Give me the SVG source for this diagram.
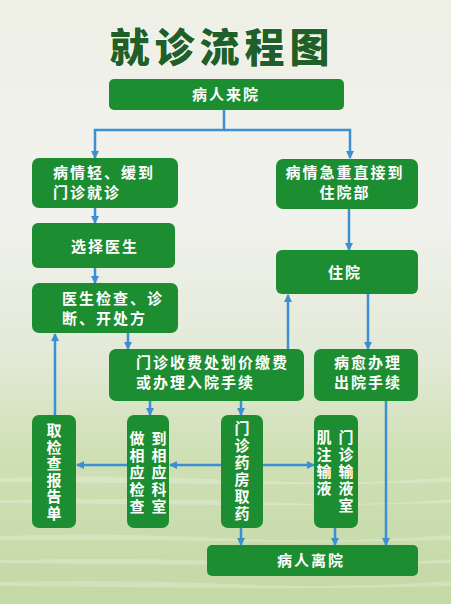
<svg xmlns="http://www.w3.org/2000/svg" width="451" height="604" viewBox="0 0 451 604">
<style>
.node{fill:#1d8d31;}
.t{fill:#ffffff;font-family:"Noto Sans CJK SC","Noto Sans",sans-serif;font-weight:bold;font-size:15px;letter-spacing:2px;}
.tc{text-anchor:middle;}
.v{fill:#ffffff;font-family:"Liberation Sans","Noto Sans CJK SC",sans-serif;font-weight:bold;font-size:15px;text-anchor:middle;}
.c{fill:none;stroke:#3b8fd2;stroke-width:2.5;marker-end:url(#arr);}
.title{fill:#1f5f28;font-family:"Noto Sans CJK SC","Noto Sans",sans-serif;font-weight:900;font-size:40px;letter-spacing:5px;stroke:#ffffff;stroke-width:1;paint-order:stroke;}
</style>
<defs>
<linearGradient id="bg" x1="0" y1="0" x2="0" y2="1">
<stop offset="0" stop-color="#eef0e6"/>
<stop offset="0.35" stop-color="#f1f2ee"/>
<stop offset="0.6" stop-color="#e2e9d6"/>
<stop offset="0.75" stop-color="#cfe0b5"/>
<stop offset="1" stop-color="#c4d9a6"/>
</linearGradient>
<marker id="arr" markerUnits="userSpaceOnUse" markerWidth="9" markerHeight="9" refX="7" refY="4.5" orient="auto">
<path d="M0,0.5 L8,4.5 L0,8.5 z" fill="#3b8fd2"/>
</marker>
</defs>
<rect width="451" height="604" fill="url(#bg)"/>
<g id="background-stripes" fill="#ffffff" opacity="0.22">
<path d="M0 478 Q120 474 240 480 T451 477 V482 Q330 485 240 484 T0 482 Z"/>
<path d="M0 500 Q150 497 260 502 T451 499 V503 Q330 506 230 505 T0 503 Z"/>
<path d="M0 536 Q100 532 220 538 T451 535 V540 Q330 543 210 541 T0 540 Z"/>
<path d="M0 560 Q140 557 250 562 T451 559 V563 Q320 566 220 565 T0 563 Z"/>
<path d="M0 582 Q110 579 230 584 T451 581 V586 Q330 589 220 588 T0 586 Z"/>
</g>
<text id="title" class="title" x="222" y="62" text-anchor="middle">就诊流程图</text>
<g id="connectors">
<path class="c" d="M224 110 V130 H95 V158"/>
<path class="c" d="M224 130 H350 V158"/>
<path class="c" d="M95 208 V223"/>
<path class="c" d="M95 268 V283"/>
<path class="c" d="M349 209 V250"/>
<path class="c" d="M55 415 V334"/>
<path class="c" d="M128 333 V349"/>
<path class="c" d="M288 349 V295"/>
<path class="c" d="M368 294 V349"/>
<path class="c" d="M150 401 V415"/>
<path class="c" d="M241 401 V415"/>
<path class="c" d="M221 465 H170"/>
<path class="c" d="M127 465 H77"/>
<path class="c" d="M263 465 H314"/>
<path class="c" d="M241 528 V545"/>
<path class="c" d="M335 528 V545"/>
<path class="c" d="M386 401 V545"/>
</g>
<g id="n-arrive"><rect class="node" x="109" y="79" width="235" height="31" rx="5"/><text class="t tc" x="226" y="100">病人来院</text></g>
<g id="n-mild"><rect class="node" x="32" y="158" width="146" height="50" rx="7"/><text class="t" x="53" y="178">病情轻、缓到</text><text class="t" x="53" y="198">门诊就诊</text></g>
<g id="n-urgent"><rect class="node" x="276" y="159" width="142" height="50" rx="7"/><text class="t tc" x="345" y="178">病情急重直接到</text><text class="t tc" x="345" y="198">住院部</text></g>
<g id="n-doctor"><rect class="node" x="32" y="223" width="143" height="45" rx="6"/><text class="t tc" x="105" y="252">选择医生</text></g>
<g id="n-exam"><rect class="node" x="32" y="283" width="146" height="50" rx="7"/><text class="t" x="62" y="304">医生检查、诊</text><text class="t" x="62" y="324">断、开处方</text></g>
<g id="n-hosp"><rect class="node" x="276" y="250" width="142" height="44" rx="6"/><text class="t tc" x="345" y="278">住院</text></g>
<g id="n-pay"><rect class="node" x="109" y="349" width="195" height="52" rx="7"/><text class="t" x="136" y="368">门诊收费处划价缴费</text><text class="t" x="136" y="388">或办理入院手续</text></g>
<g id="n-discharge"><rect class="node" x="314" y="349" width="104" height="52" rx="7"/><text class="t tc" x="368" y="368">病愈办理</text><text class="t tc" x="368" y="388">出院手续</text></g>
<g id="n-report"><rect class="node" x="32" y="415" width="44" height="113" rx="7"/><text class="v"><tspan x="54" y="436">取</tspan><tspan x="54" dy="16.6">检</tspan><tspan x="54" dy="16.6">查</tspan><tspan x="54" dy="16.6">报</tspan><tspan x="54" dy="16.6">告</tspan><tspan x="54" dy="16.6">单</tspan></text></g>
<g id="n-check"><rect class="node" x="127" y="415" width="42" height="113" rx="7"/><text class="v"><tspan x="137" y="444">做</tspan><tspan x="137" dy="17">相</tspan><tspan x="137" dy="17">应</tspan><tspan x="137" dy="17">检</tspan><tspan x="137" dy="17">查</tspan></text><text class="v"><tspan x="159" y="444">到</tspan><tspan x="159" dy="17">相</tspan><tspan x="159" dy="17">应</tspan><tspan x="159" dy="17">科</tspan><tspan x="159" dy="17">室</tspan></text></g>
<g id="n-pharmacy"><rect class="node" x="221" y="415" width="42" height="113" rx="7"/><text class="v"><tspan x="242" y="434">门</tspan><tspan x="242" dy="17">诊</tspan><tspan x="242" dy="17">药</tspan><tspan x="242" dy="17">房</tspan><tspan x="242" dy="17">取</tspan><tspan x="242" dy="17">药</tspan></text></g>
<g id="n-infusion"><rect class="node" x="314" y="415" width="44" height="113" rx="7"/><text class="v"><tspan x="324" y="443">肌</tspan><tspan x="324" dy="17">注</tspan><tspan x="324" dy="17">输</tspan><tspan x="324" dy="17">液</tspan></text><text class="v"><tspan x="346" y="443">门</tspan><tspan x="346" dy="17">诊</tspan><tspan x="346" dy="17">输</tspan><tspan x="346" dy="17">液</tspan><tspan x="346" dy="17">室</tspan></text></g>
<g id="n-leave"><rect class="node" x="207" y="545" width="211" height="31" rx="5"/><text class="t tc" x="311" y="566">病人离院</text></g>
</svg>
